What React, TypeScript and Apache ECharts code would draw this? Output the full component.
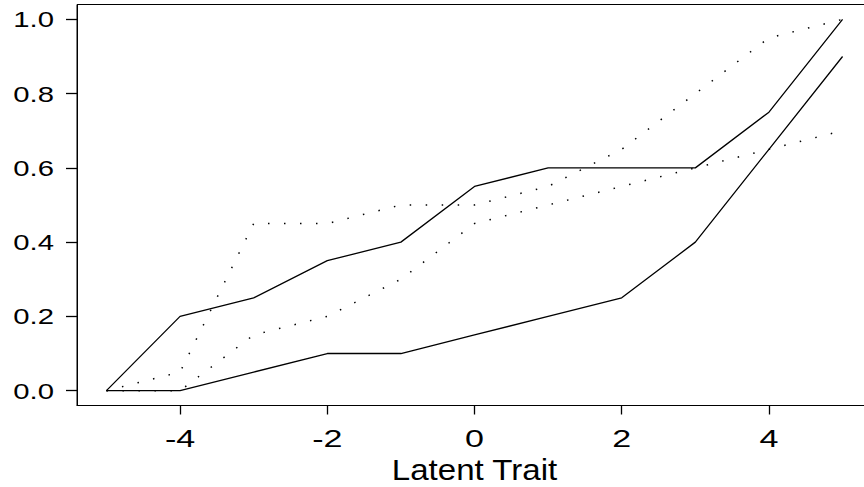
import React, { useEffect, useRef } from "react";
import * as echarts from "echarts";

const traitX = [-5, -4, -3, -2, -1, 0, 1, 2, 3, 4, 5];
const solidUpper = [0, 0.2, 0.25, 0.35, 0.4, 0.55, 0.6, 0.6, 0.6, 0.75, 1.0];
const solidLower = [0, 0, 0.05, 0.1, 0.1, 0.15, 0.2, 0.25, 0.4, 0.65, 0.9];
const dottedUpper = [0, 0.05, 0.45, 0.45, 0.5, 0.5, 0.55, 0.65, 0.8, 0.95, 1.0];
const dottedLower = [0, 0, 0.15, 0.2, 0.3, 0.45, 0.5, 0.55, 0.6, 0.65, 0.7];
const xTicks = [-4, -2, 0, 2, 4];
const yTicks = [0, 0.2, 0.4, 0.6, 0.8, 1.0];
const xTitle = "Latent Trait";

const FONT = "'Liberation Sans', Arial, Helvetica, sans-serif";
const X_MIN = -5.4;
const X_MAX = 5.4;
const Y_MIN = -0.04;
const Y_MAX = 1.04;

function pairs(ys: number[]) {
  return traitX.map((x, i) => [x, ys[i]]);
}

export default function App() {
  const ref = useRef<HTMLDivElement>(null);
  useEffect(() => {
    if (!ref.current) return;
    const chart = echarts.init(ref.current, null, { renderer: "svg" });
    const solid = { color: "#000", width: 1.3, type: "solid" as const };
    const dotted = { color: "#000", width: 1.5, type: [1.5, 14.5], cap: "butt" as const };
    chart.setOption({
      animation: false,
      backgroundColor: "#fff",
      grid: {
        left: 77,
        top: 4.5,
        width: 795,
        height: 401,
        outerBoundsMode: "none",
        containLabel: false,
        show: true,
        borderColor: "#000",
        borderWidth: 1,
        backgroundColor: "transparent",
      },
      xAxis: {
        type: "value",
        min: X_MIN,
        max: X_MAX,
        axisLine: { show: true, onZero: false, lineStyle: { color: "#000", width: 1 } },
        axisTick: { show: true, inside: false, length: 9, customValues: xTicks, lineStyle: { color: "#000", width: 1.3 } },
        axisLabel: { show: false },
        splitLine: { show: false },
      },
      yAxis: {
        type: "value",
        min: Y_MIN,
        max: Y_MAX,
        axisLine: { show: true, onZero: false, lineStyle: { color: "#000", width: 1 } },
        axisTick: { show: true, inside: false, length: 11, customValues: yTicks, lineStyle: { color: "#000", width: 1.3 } },
        axisLabel: { show: false },
        splitLine: { show: false },
      },
      series: [
        { type: "line", data: pairs(solidUpper), symbol: "none", lineStyle: solid, silent: true },
        { type: "line", data: pairs(solidLower), symbol: "none", lineStyle: solid, silent: true },
        { type: "line", data: pairs(dottedUpper), symbol: "none", lineStyle: dotted, silent: true },
        { type: "line", data: pairs(dottedLower), symbol: "none", lineStyle: dotted, silent: true },
      ],
    });

    const toPx = (x: number, y: number) =>
      chart.convertToPixel({ xAxisIndex: 0, yAxisIndex: 0 }, [x, y]) as number[];
    const [gridLeft, gridBottom] = toPx(X_MIN, Y_MIN);
    const graphics: any[] = [];
    yTicks.forEach((v) => {
      const [, py] = toPx(X_MIN, v);
      graphics.push({
        type: "text",
        x: gridLeft - 23,
        y: py + 0.5,
        scaleX: 1.36,
        silent: true,
        style: {
          text: v.toFixed(1),
          fill: "#000",
          font: `21.5px ${FONT}`,
          textAlign: "right",
          textVerticalAlign: "middle",
        },
      });
    });
    xTicks.forEach((v) => {
      const [px] = toPx(v, Y_MIN);
      graphics.push({
        type: "text",
        x: px,
        y: gridBottom + 33.5,
        scaleX: 1.45,
        silent: true,
        style: {
          text: String(v),
          fill: "#000",
          font: `23.5px ${FONT}`,
          textAlign: "center",
          textVerticalAlign: "middle",
        },
      });
    });
    const [midX] = toPx((X_MIN + X_MAX) / 2, Y_MIN);
    graphics.push({
      type: "text",
      x: midX,
      y: gridBottom + 65,
      scaleX: 1.14,
      silent: true,
      style: {
        text: xTitle,
        fill: "#000",
        font: `29px ${FONT}`,
        textAlign: "center",
        textVerticalAlign: "middle",
      },
    });
    chart.setOption({ graphic: graphics });
    return () => chart.dispose();
  }, []);
  return (
    <div
      ref={ref}
      style={{ position: "fixed", left: 0, top: 0, width: 864, height: 487, background: "#fff" }}
    />
  );
}
